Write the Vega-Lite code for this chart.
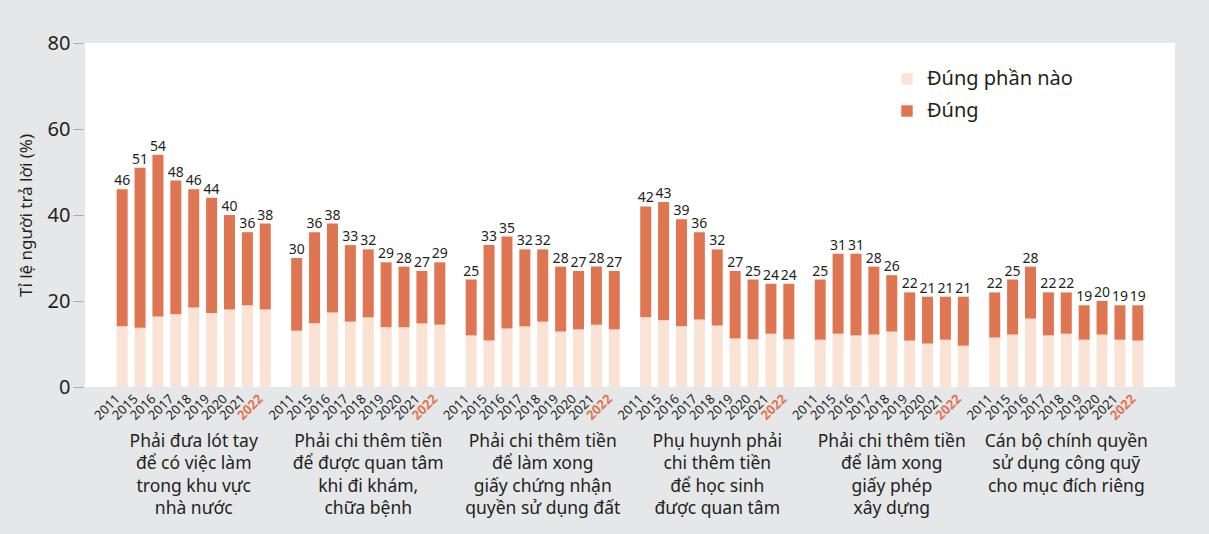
{
  "$schema": "https://vega.github.io/schema/vega-lite/v6.json",
  "autosize": {"type": "none"},
  "width": 1090,
  "height": 344,
  "padding": {"left": 85, "top": 43, "right": 34, "bottom": 147},
  "background": "#e6e7e8",
  "config": {
    "font": "Noto Sans",
    "view": {"fill": "white", "stroke": null}
  },
  "data": {
    "values": [
      {"nhom": "Phải đưa lót tay\nđể có việc làm\ntrong khu vực\nnhà nước", "nam": "2011", "dung_phan_nao": 14.1, "tong": 46},
      {"nhom": "Phải đưa lót tay\nđể có việc làm\ntrong khu vực\nnhà nước", "nam": "2015", "dung_phan_nao": 13.8, "tong": 51},
      {"nhom": "Phải đưa lót tay\nđể có việc làm\ntrong khu vực\nnhà nước", "nam": "2016", "dung_phan_nao": 16.4, "tong": 54},
      {"nhom": "Phải đưa lót tay\nđể có việc làm\ntrong khu vực\nnhà nước", "nam": "2017", "dung_phan_nao": 16.9, "tong": 48},
      {"nhom": "Phải đưa lót tay\nđể có việc làm\ntrong khu vực\nnhà nước", "nam": "2018", "dung_phan_nao": 18.5, "tong": 46},
      {"nhom": "Phải đưa lót tay\nđể có việc làm\ntrong khu vực\nnhà nước", "nam": "2019", "dung_phan_nao": 17.2, "tong": 44},
      {"nhom": "Phải đưa lót tay\nđể có việc làm\ntrong khu vực\nnhà nước", "nam": "2020", "dung_phan_nao": 18.0, "tong": 40},
      {"nhom": "Phải đưa lót tay\nđể có việc làm\ntrong khu vực\nnhà nước", "nam": "2021", "dung_phan_nao": 19.0, "tong": 36},
      {"nhom": "Phải đưa lót tay\nđể có việc làm\ntrong khu vực\nnhà nước", "nam": "2022", "dung_phan_nao": 18.0, "tong": 38},
      {"nhom": "Phải chi thêm tiền\nđể được quan tâm\nkhi đi khám,\nchữa bệnh", "nam": "2011", "dung_phan_nao": 13.1, "tong": 30},
      {"nhom": "Phải chi thêm tiền\nđể được quan tâm\nkhi đi khám,\nchữa bệnh", "nam": "2015", "dung_phan_nao": 14.8, "tong": 36},
      {"nhom": "Phải chi thêm tiền\nđể được quan tâm\nkhi đi khám,\nchữa bệnh", "nam": "2016", "dung_phan_nao": 17.3, "tong": 38},
      {"nhom": "Phải chi thêm tiền\nđể được quan tâm\nkhi đi khám,\nchữa bệnh", "nam": "2017", "dung_phan_nao": 15.2, "tong": 33},
      {"nhom": "Phải chi thêm tiền\nđể được quan tâm\nkhi đi khám,\nchữa bệnh", "nam": "2018", "dung_phan_nao": 16.2, "tong": 32},
      {"nhom": "Phải chi thêm tiền\nđể được quan tâm\nkhi đi khám,\nchữa bệnh", "nam": "2019", "dung_phan_nao": 13.9, "tong": 29},
      {"nhom": "Phải chi thêm tiền\nđể được quan tâm\nkhi đi khám,\nchữa bệnh", "nam": "2020", "dung_phan_nao": 13.9, "tong": 28},
      {"nhom": "Phải chi thêm tiền\nđể được quan tâm\nkhi đi khám,\nchữa bệnh", "nam": "2021", "dung_phan_nao": 14.8, "tong": 27},
      {"nhom": "Phải chi thêm tiền\nđể được quan tâm\nkhi đi khám,\nchữa bệnh", "nam": "2022", "dung_phan_nao": 14.5, "tong": 29},
      {"nhom": "Phải chi thêm tiền\nđể làm xong\ngiấy chứng nhận\nquyền sử dụng đất", "nam": "2011", "dung_phan_nao": 12.0, "tong": 25},
      {"nhom": "Phải chi thêm tiền\nđể làm xong\ngiấy chứng nhận\nquyền sử dụng đất", "nam": "2015", "dung_phan_nao": 10.8, "tong": 33},
      {"nhom": "Phải chi thêm tiền\nđể làm xong\ngiấy chứng nhận\nquyền sử dụng đất", "nam": "2016", "dung_phan_nao": 13.6, "tong": 35},
      {"nhom": "Phải chi thêm tiền\nđể làm xong\ngiấy chứng nhận\nquyền sử dụng đất", "nam": "2017", "dung_phan_nao": 14.1, "tong": 32},
      {"nhom": "Phải chi thêm tiền\nđể làm xong\ngiấy chứng nhận\nquyền sử dụng đất", "nam": "2018", "dung_phan_nao": 15.2, "tong": 32},
      {"nhom": "Phải chi thêm tiền\nđể làm xong\ngiấy chứng nhận\nquyền sử dụng đất", "nam": "2019", "dung_phan_nao": 12.9, "tong": 28},
      {"nhom": "Phải chi thêm tiền\nđể làm xong\ngiấy chứng nhận\nquyền sử dụng đất", "nam": "2020", "dung_phan_nao": 13.4, "tong": 27},
      {"nhom": "Phải chi thêm tiền\nđể làm xong\ngiấy chứng nhận\nquyền sử dụng đất", "nam": "2021", "dung_phan_nao": 14.5, "tong": 28},
      {"nhom": "Phải chi thêm tiền\nđể làm xong\ngiấy chứng nhận\nquyền sử dụng đất", "nam": "2022", "dung_phan_nao": 13.4, "tong": 27},
      {"nhom": "Phụ huynh phải\nchi thêm tiền\nđể học sinh\nđược quan tâm", "nam": "2011", "dung_phan_nao": 16.2, "tong": 42},
      {"nhom": "Phụ huynh phải\nchi thêm tiền\nđể học sinh\nđược quan tâm", "nam": "2015", "dung_phan_nao": 15.5, "tong": 43},
      {"nhom": "Phụ huynh phải\nchi thêm tiền\nđể học sinh\nđược quan tâm", "nam": "2016", "dung_phan_nao": 14.1, "tong": 39},
      {"nhom": "Phụ huynh phải\nchi thêm tiền\nđể học sinh\nđược quan tâm", "nam": "2017", "dung_phan_nao": 15.7, "tong": 36},
      {"nhom": "Phụ huynh phải\nchi thêm tiền\nđể học sinh\nđược quan tâm", "nam": "2018", "dung_phan_nao": 14.3, "tong": 32},
      {"nhom": "Phụ huynh phải\nchi thêm tiền\nđể học sinh\nđược quan tâm", "nam": "2019", "dung_phan_nao": 11.3, "tong": 27},
      {"nhom": "Phụ huynh phải\nchi thêm tiền\nđể học sinh\nđược quan tâm", "nam": "2020", "dung_phan_nao": 11.1, "tong": 25},
      {"nhom": "Phụ huynh phải\nchi thêm tiền\nđể học sinh\nđược quan tâm", "nam": "2021", "dung_phan_nao": 12.4, "tong": 24},
      {"nhom": "Phụ huynh phải\nchi thêm tiền\nđể học sinh\nđược quan tâm", "nam": "2022", "dung_phan_nao": 11.1, "tong": 24},
      {"nhom": "Phải chi thêm tiền\nđể làm xong\ngiấy phép\nxây dựng", "nam": "2011", "dung_phan_nao": 11.0, "tong": 25},
      {"nhom": "Phải chi thêm tiền\nđể làm xong\ngiấy phép\nxây dựng", "nam": "2015", "dung_phan_nao": 12.4, "tong": 31},
      {"nhom": "Phải chi thêm tiền\nđể làm xong\ngiấy phép\nxây dựng", "nam": "2016", "dung_phan_nao": 12.0, "tong": 31},
      {"nhom": "Phải chi thêm tiền\nđể làm xong\ngiấy phép\nxây dựng", "nam": "2017", "dung_phan_nao": 12.2, "tong": 28},
      {"nhom": "Phải chi thêm tiền\nđể làm xong\ngiấy phép\nxây dựng", "nam": "2018", "dung_phan_nao": 12.9, "tong": 26},
      {"nhom": "Phải chi thêm tiền\nđể làm xong\ngiấy phép\nxây dựng", "nam": "2019", "dung_phan_nao": 10.8, "tong": 22},
      {"nhom": "Phải chi thêm tiền\nđể làm xong\ngiấy phép\nxây dựng", "nam": "2020", "dung_phan_nao": 10.1, "tong": 21},
      {"nhom": "Phải chi thêm tiền\nđể làm xong\ngiấy phép\nxây dựng", "nam": "2021", "dung_phan_nao": 11.0, "tong": 21},
      {"nhom": "Phải chi thêm tiền\nđể làm xong\ngiấy phép\nxây dựng", "nam": "2022", "dung_phan_nao": 9.6, "tong": 21},
      {"nhom": "Cán bộ chính quyền\nsử dụng công quỹ\ncho mục đích riêng", "nam": "2011", "dung_phan_nao": 11.5, "tong": 22},
      {"nhom": "Cán bộ chính quyền\nsử dụng công quỹ\ncho mục đích riêng", "nam": "2015", "dung_phan_nao": 12.2, "tong": 25},
      {"nhom": "Cán bộ chính quyền\nsử dụng công quỹ\ncho mục đích riêng", "nam": "2016", "dung_phan_nao": 15.9, "tong": 28},
      {"nhom": "Cán bộ chính quyền\nsử dụng công quỹ\ncho mục đích riêng", "nam": "2017", "dung_phan_nao": 12.0, "tong": 22},
      {"nhom": "Cán bộ chính quyền\nsử dụng công quỹ\ncho mục đích riêng", "nam": "2018", "dung_phan_nao": 12.4, "tong": 22},
      {"nhom": "Cán bộ chính quyền\nsử dụng công quỹ\ncho mục đích riêng", "nam": "2019", "dung_phan_nao": 11.0, "tong": 19},
      {"nhom": "Cán bộ chính quyền\nsử dụng công quỹ\ncho mục đích riêng", "nam": "2020", "dung_phan_nao": 12.2, "tong": 20},
      {"nhom": "Cán bộ chính quyền\nsử dụng công quỹ\ncho mục đích riêng", "nam": "2021", "dung_phan_nao": 11.0, "tong": 19},
      {"nhom": "Cán bộ chính quyền\nsử dụng công quỹ\ncho mục đích riêng", "nam": "2022", "dung_phan_nao": 10.8, "tong": 19}
    ]
  },
  "encoding": {
    "x": {
      "field": "nhom", "type": "nominal", "sort": null,
      "scale": {"paddingInner": 0, "paddingOuter": 0.123},
      "axis": {
        "title": null, "orient": "bottom", "ticks": false, "domain": false,
        "labelAngle": 0, "labelAlign": "center", "labelBaseline": "top",
        "labelPadding": 45, "labelFontSize": 17.5, "labelLineHeight": 22.5,
        "labelColor": "#231f20", "labelLimit": 0,
        "labelExpr": "split(datum.value, '\\n')"
      }
    },
    "xOffset": {
      "field": "nam", "type": "nominal",
      "scale": {"paddingInner": 0.385, "paddingOuter": 0.57}
    }
  },
  "layer": [
    {
      "mark": {"type": "bar"},
      "encoding": {
        "y": {
          "field": "dung_phan_nao", "type": "quantitative",
          "scale": {"domain": [0, 80]},
          "axis": {
            "title": "Tỉ lệ người trả lời (%)", "titleFontSize": 17, "titleFontWeight": "normal",
            "titleColor": "#231f20", "titlePadding": 12,
            "values": [0, 20, 40, 60, 80], "grid": false, "domain": false,
            "tickSize": 10, "tickColor": "#a7a9ac", "tickWidth": 1, "offset": 2,
            "labelFontSize": 20, "labelColor": "#231f20", "labelPadding": 3
          }
        },
        "color": {
          "datum": "Đúng phần nào", "type": "nominal",
          "scale": {"domain": ["Đúng phần nào", "Đúng"], "range": ["#fae2d5", "#e07551"]},
          "legend": {
            "title": null, "orient": "none", "legendX": 812, "legendY": 26,
            "symbolType": "square", "symbolSize": 130, "symbolStrokeWidth": 0,
            "labelFontSize": 20, "labelColor": "#231f20", "labelOffset": 10,
            "rowPadding": 12, "padding": 0
          }
        }
      }
    },
    {
      "mark": {"type": "bar"},
      "encoding": {
        "y": {"field": "dung_phan_nao", "type": "quantitative"},
        "y2": {"field": "tong"},
        "color": {"datum": "Đúng", "type": "nominal"}
      }
    },
    {
      "mark": {"type": "text", "fontSize": 14, "color": "#231f20", "baseline": "alphabetic", "dy": -4},
      "encoding": {
        "y": {"field": "tong", "type": "quantitative"},
        "text": {"field": "tong", "type": "quantitative"}
      }
    },
    {
      "transform": [{"filter": "datum.nam !== '2022'"}],
      "mark": {"type": "text", "fontSize": 13, "color": "#231f20", "angle": 315, "align": "right", "baseline": "middle", "dx": -10, "dy": 4},
      "encoding": {
        "y": {"datum": 0, "type": "quantitative"},
        "text": {"field": "nam", "type": "nominal"}
      }
    },
    {
      "transform": [{"filter": "datum.nam === '2022'"}],
      "mark": {"type": "text", "fontSize": 13, "fontWeight": "bold", "color": "#e07551", "angle": 315, "align": "right", "baseline": "middle", "dx": -10, "dy": 4},
      "encoding": {
        "y": {"datum": 0, "type": "quantitative"},
        "text": {"field": "nam", "type": "nominal"}
      }
    }
  ]
}
